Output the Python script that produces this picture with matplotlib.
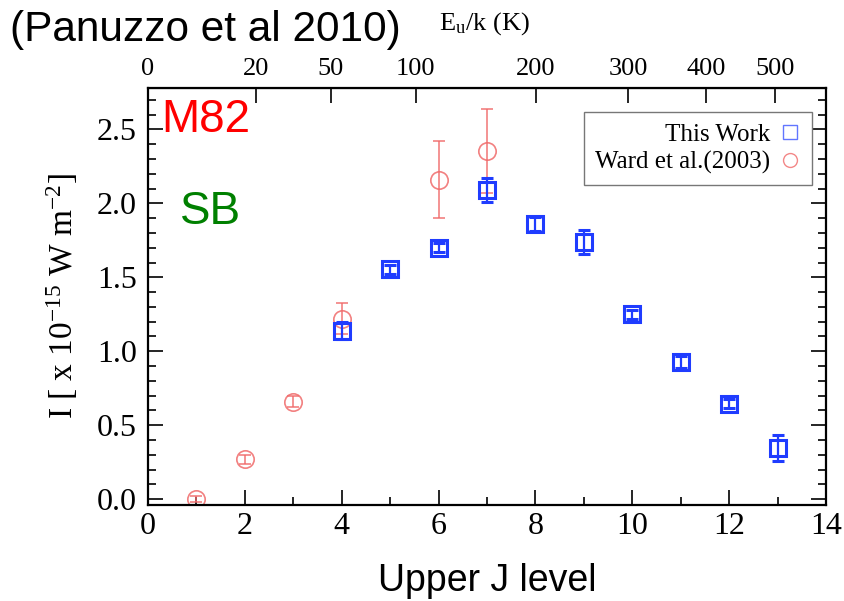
import numpy as np
import matplotlib.pyplot as plt
from matplotlib.lines import Line2D
from matplotlib.ticker import MultipleLocator

# CO ladder fluxes for M82 (x 1e-15 W m^-2)
j_this = [4, 5, 6, 7, 8, 9, 10, 11, 12, 13]
flux_this = [1.14, 1.555, 1.70, 2.09, 1.86, 1.74, 1.25, 0.93, 0.645, 0.345]
err_this = [0.06, 0.03, 0.03, 0.08, 0.05, 0.08, 0.03, 0.04, 0.03, 0.09]

j_ward = [1, 2, 3, 4, 6, 7]
flux_ward = [0.0, 0.27, 0.66, 1.22, 2.16, 2.355]
err_ward = [0.02, 0.03, 0.04, 0.105, 0.26, 0.285]

energy_ticks = [0, 20, 50, 100, 200, 300, 400, 500]

blue = '#1f3cff'
red = '#f06a6a'
serif = 'Liberation Serif'
sans = 'Liberation Sans'

plt.rcParams['mathtext.fontset'] = 'custom'
plt.rcParams['mathtext.rm'] = serif
plt.rcParams['mathtext.it'] = serif + ':italic'

# rotational constant of CO in K: E_u/k = B J (J+1)
B_CO = 2.77


def j_to_energy(j):
    j = np.asarray(j, dtype=float)
    return B_CO * j * (j + 1)


def energy_to_j(e):
    e = np.clip(np.asarray(e, dtype=float), 0, None)
    return (-1 + np.sqrt(1 + 4 * e / B_CO)) / 2


def main():
    fig = plt.figure(figsize=(8.45, 6.01), dpi=100)
    ax = fig.add_axes([0.1751, 0.1597, 0.8024, 0.6938])

    ax.errorbar(j_this, flux_this, yerr=err_this, fmt='s', ms=11,
                mfc='none', mec=blue, mew=2.2, ecolor=blue, elinewidth=1.6,
                capsize=4, capthick=1.6, zorder=3)
    ax.errorbar(j_ward, flux_ward, yerr=err_ward, fmt='o', ms=12.5,
                mfc='none', mec=red, mew=1.2, ecolor=red, elinewidth=1.2,
                capsize=4, capthick=1.2, alpha=0.85, zorder=2)

    ax.set_xlim(0, 14)
    ax.set_ylim(-0.04, 2.78)
    ax.xaxis.set_major_locator(MultipleLocator(2))
    ax.xaxis.set_minor_locator(MultipleLocator(1))
    ax.yaxis.set_major_locator(MultipleLocator(0.5))
    ax.yaxis.set_minor_locator(MultipleLocator(0.1))
    ax.yaxis.set_major_formatter(plt.FormatStrFormatter('%.1f'))

    ax.tick_params(which='both', direction='in', right=True, top=False,
                   width=1.2, labelsize=23)
    ax.tick_params(axis='y', pad=8)
    ax.tick_params(axis='x', pad=5)
    ax.tick_params(which='major', length=11)
    ax.tick_params(which='minor', length=6)
    for lab in ax.get_xticklabels() + ax.get_yticklabels():
        lab.set_fontfamily(serif)
    for sp in ax.spines.values():
        sp.set_linewidth(1.6)

    top = ax.secondary_xaxis('top', functions=(j_to_energy, energy_to_j))
    top.set_xticks(energy_ticks)
    top.xaxis.set_minor_locator(plt.NullLocator())
    top.tick_params(direction='in', length=11, width=1.2, labelsize=19, pad=6)
    for lab in top.get_xticklabels():
        lab.set_fontfamily(serif)

    ax.set_ylabel(r'I [ x 10$^{-15}$ W m$^{-2}$]', fontfamily=serif,
                  fontsize=24, labelpad=12)
    ax.set_xlabel('Upper J level', fontfamily=sans, fontsize=27, labelpad=16)

    ax.text(0.02, 0.975, 'M82', transform=ax.transAxes, color='red',
            fontfamily=sans, fontsize=33, va='top', ha='left')
    ax.text(0.047, 0.755, 'SB', transform=ax.transAxes, color='green',
            fontfamily=sans, fontsize=33, va='top', ha='left')

    fig.text(0.012, 0.95, '(Panuzzo et al 2010)', fontfamily=sans,
             fontsize=30.5, va='center', ha='left')
    fig.text(0.52, 0.96, r'E$_\mathrm{u}$/k (K)', fontfamily=serif,
             fontsize=19, va='center', ha='left')

    handles = [
        Line2D([], [], ls='none', marker='s', ms=10, mfc='none',
               mec=blue, mew=1.0, alpha=0.7),
        Line2D([], [], ls='none', marker='o', ms=10, mfc='none',
               mec=red, mew=1.0, alpha=0.8),
    ]
    leg = ax.legend(handles, ['This Work', 'Ward et al.(2003)'],
                    loc='upper right', bbox_to_anchor=(0.979, 0.942),
                    borderaxespad=0, markerfirst=False, fancybox=False,
                    framealpha=1, edgecolor='#777777', handlelength=0.8,
                    handletextpad=0.4, borderpad=0.45, labelspacing=0.2,
                    prop={'family': serif, 'size': 18})
    leg.get_frame().set_linewidth(1.0)

    fig.savefig('out.png', dpi=100)
    plt.close(fig)


if __name__ == '__main__':
    main()
